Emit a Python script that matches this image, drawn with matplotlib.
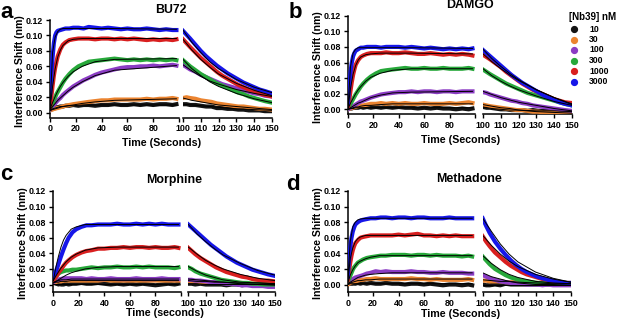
import matplotlib.pyplot as plt
from matplotlib.lines import Line2D

plt.rcParams['font.family'] = ['Liberation Sans', 'DejaVu Sans']
plt.rcParams['font.weight'] = 'bold'
plt.rcParams['axes.labelweight'] = 'bold'

W, H = 617, 321

# [Nb39] concentrations (nM) and their colours
CONCS = ['10', '30', '100', '300', '1000', '3000']
COLORS = ['#141414', '#EB8430', '#8B3CC4', '#27A83A', '#D91F1F', '#1616E8']

# sampled times of the traces (association / dissociation)
T_ON = [0, 1, 2, 3, 4, 5, 6, 8, 10, 12, 15, 18, 22, 26, 30, 35, 40, 45, 50, 55,
        60, 65, 70, 75, 80, 85, 90, 95, 98]
T_OFF = [100, 102, 104, 107, 110, 113, 116, 119, 122, 125, 128, 131, 134, 137,
         140, 143, 146, 150]
# times for the fitted curves
FIT_T_ON = [0, 2, 4, 6, 8, 10, 14, 18, 25, 35, 50, 98]
FIT_T_OFF = [100, 105, 110, 115, 120, 130, 140, 150]

# ---- BU72 ----
BU72_ON = [
    [0.003, 0.004, 0.005, 0.006, 0.006, 0.007, 0.007, 0.008, 0.008, 0.009, 0.009, 0.010, 0.009, 0.010, 0.010,
     0.009, 0.010, 0.010, 0.011, 0.010, 0.010, 0.011, 0.010, 0.011, 0.010, 0.011, 0.011, 0.010, 0.011],
    [0.003, 0.004, 0.004, 0.005, 0.005, 0.006, 0.006, 0.007, 0.008, 0.009, 0.010, 0.011, 0.012, 0.013, 0.014,
     0.015, 0.016, 0.016, 0.017, 0.017, 0.017, 0.017, 0.017, 0.018, 0.017, 0.018, 0.018, 0.019, 0.018],
    [0.004, 0.006, 0.008, 0.010, 0.012, 0.014, 0.016, 0.019, 0.023, 0.026, 0.030, 0.034, 0.038, 0.042, 0.045,
     0.049, 0.052, 0.054, 0.056, 0.058, 0.059, 0.059, 0.060, 0.060, 0.061, 0.060, 0.061, 0.062, 0.061],
    [0.005, 0.008, 0.012, 0.016, 0.020, 0.024, 0.027, 0.033, 0.039, 0.044, 0.050, 0.055, 0.060, 0.063, 0.066,
     0.067, 0.068, 0.069, 0.070, 0.069, 0.068, 0.069, 0.068, 0.069, 0.068, 0.069, 0.068, 0.069, 0.068],
    [0.005, 0.020, 0.035, 0.048, 0.058, 0.066, 0.073, 0.082, 0.088, 0.091, 0.094, 0.095, 0.096, 0.096, 0.096,
     0.095, 0.096, 0.096, 0.095, 0.096, 0.095, 0.096, 0.095, 0.094, 0.095, 0.094, 0.095, 0.094, 0.095],
    [0.020, 0.048, 0.072, 0.090, 0.100, 0.104, 0.106, 0.107, 0.108, 0.109, 0.109, 0.110, 0.110, 0.109, 0.111,
     0.110, 0.109, 0.110, 0.109, 0.108, 0.109, 0.108, 0.108, 0.109, 0.108, 0.107, 0.108, 0.107, 0.107],
]
BU72_OFF = [
    [0.011, 0.011, 0.010, 0.010, 0.009, 0.008, 0.008, 0.006, 0.006, 0.005, 0.005, 0.004, 0.004, 0.003, 0.003, 0.003, 0.002, 0.002],
    [0.019, 0.020, 0.019, 0.018, 0.016, 0.015, 0.014, 0.012, 0.011, 0.010, 0.009, 0.008, 0.008, 0.007, 0.006, 0.005, 0.005, 0.004],
    [0.062, 0.059, 0.056, 0.053, 0.049, 0.046, 0.043, 0.040, 0.037, 0.035, 0.033, 0.031, 0.029, 0.027, 0.025, 0.024, 0.022, 0.021],
    [0.068, 0.064, 0.060, 0.055, 0.050, 0.046, 0.042, 0.038, 0.035, 0.032, 0.029, 0.026, 0.024, 0.021, 0.019, 0.017, 0.015, 0.013],
    [0.095, 0.090, 0.085, 0.078, 0.071, 0.065, 0.059, 0.053, 0.048, 0.044, 0.040, 0.036, 0.033, 0.030, 0.028, 0.025, 0.023, 0.021],
    [0.106, 0.101, 0.096, 0.088, 0.080, 0.073, 0.067, 0.061, 0.056, 0.051, 0.047, 0.043, 0.039, 0.036, 0.033, 0.030, 0.028, 0.025],
]
BU72_FIT_ON = [
    [0.003, 0.005, 0.006, 0.007, 0.008, 0.008, 0.009, 0.009, 0.010, 0.010, 0.010, 0.010],
    [0.003, 0.004, 0.005, 0.006, 0.007, 0.008, 0.009, 0.010, 0.012, 0.014, 0.016, 0.018],
    [0.004, 0.008, 0.012, 0.016, 0.019, 0.022, 0.028, 0.033, 0.040, 0.048, 0.055, 0.061],
    [0.005, 0.013, 0.021, 0.028, 0.034, 0.039, 0.047, 0.053, 0.060, 0.066, 0.069, 0.070],
    [0.005, 0.034, 0.057, 0.072, 0.081, 0.087, 0.093, 0.095, 0.096, 0.096, 0.096, 0.096],
    [0.005, 0.078, 0.098, 0.105, 0.108, 0.109, 0.109, 0.109, 0.109, 0.109, 0.109, 0.108],
]
BU72_FIT_OFF = [
    [0.011, 0.010, 0.009, 0.008, 0.007, 0.005, 0.004, 0.003],
    [0.019, 0.016, 0.014, 0.012, 0.010, 0.008, 0.006, 0.004],
    [0.062, 0.054, 0.047, 0.041, 0.037, 0.030, 0.025, 0.021],
    [0.069, 0.057, 0.048, 0.040, 0.034, 0.025, 0.018, 0.013],
    [0.095, 0.081, 0.069, 0.059, 0.050, 0.038, 0.029, 0.022],
    [0.107, 0.091, 0.078, 0.066, 0.057, 0.043, 0.033, 0.026],
]

# ---- DAMGO ----
DAMGO_ON = [
    [0.000, 0.001, 0.001, 0.001, 0.002, 0.002, 0.002, 0.002, 0.003, 0.002, 0.003, 0.002, 0.003, 0.002, 0.003,
     0.002, 0.003, 0.002, 0.002, 0.001, 0.002, 0.001, 0.002, 0.001, 0.001, 0.000, 0.001, 0.000, 0.001],
    [0.000, 0.001, 0.001, 0.002, 0.002, 0.003, 0.003, 0.004, 0.005, 0.005, 0.006, 0.007, 0.007, 0.008, 0.007,
     0.008, 0.007, 0.008, 0.007, 0.007, 0.008, 0.007, 0.007, 0.007, 0.008, 0.007, 0.008, 0.009, 0.008],
    [0.000, 0.001, 0.002, 0.003, 0.004, 0.005, 0.006, 0.008, 0.010, 0.011, 0.013, 0.015, 0.017, 0.019, 0.020,
     0.021, 0.022, 0.022, 0.023, 0.022, 0.023, 0.023, 0.022, 0.023, 0.023, 0.022, 0.023, 0.023, 0.023],
    [0.002, 0.004, 0.007, 0.010, 0.013, 0.016, 0.019, 0.024, 0.029, 0.033, 0.038, 0.042, 0.046, 0.049, 0.050,
     0.051, 0.052, 0.053, 0.052, 0.052, 0.053, 0.052, 0.052, 0.053, 0.052, 0.052, 0.052, 0.053, 0.052],
    [0.003, 0.012, 0.024, 0.035, 0.044, 0.051, 0.057, 0.063, 0.067, 0.069, 0.071, 0.072, 0.072, 0.072, 0.073,
     0.072, 0.072, 0.073, 0.072, 0.071, 0.071, 0.072, 0.071, 0.070, 0.071, 0.070, 0.071, 0.070, 0.069],
    [0.008, 0.030, 0.048, 0.060, 0.068, 0.072, 0.075, 0.077, 0.079, 0.079, 0.080, 0.080, 0.080, 0.079, 0.080,
     0.080, 0.080, 0.079, 0.080, 0.079, 0.078, 0.079, 0.078, 0.077, 0.078, 0.077, 0.078, 0.077, 0.078],
]
DAMGO_OFF = [
    [0.003, 0.002, 0.002, 0.001, 0.000, 0.000, -0.001, -0.001, -0.001, -0.002, -0.001, -0.002, -0.002, -0.002, -0.003, -0.002, -0.003, -0.003],
    [0.006, 0.005, 0.004, 0.003, 0.002, 0.001, 0.000, -0.001, -0.001, -0.002, -0.003, -0.003, -0.004, -0.004, -0.004, -0.005, -0.005, -0.005],
    [0.022, 0.021, 0.019, 0.017, 0.015, 0.013, 0.011, 0.010, 0.008, 0.007, 0.005, 0.004, 0.003, 0.002, 0.001, 0.000, -0.001, -0.002],
    [0.051, 0.048, 0.045, 0.041, 0.037, 0.033, 0.030, 0.027, 0.024, 0.021, 0.019, 0.017, 0.015, 0.013, 0.011, 0.009, 0.007, 0.005],
    [0.070, 0.067, 0.064, 0.059, 0.054, 0.048, 0.043, 0.038, 0.033, 0.029, 0.025, 0.022, 0.019, 0.016, 0.013, 0.011, 0.009, 0.008],
    [0.076, 0.072, 0.068, 0.062, 0.056, 0.050, 0.044, 0.039, 0.034, 0.030, 0.026, 0.022, 0.018, 0.015, 0.012, 0.009, 0.007, 0.005],
]
DAMGO_FIT_ON = [
    [0.000, 0.001, 0.001, 0.002, 0.002, 0.002, 0.002, 0.002, 0.002, 0.002, 0.002, 0.002],
    [0.000, 0.001, 0.002, 0.003, 0.003, 0.004, 0.005, 0.005, 0.006, 0.007, 0.007, 0.007],
    [0.000, 0.002, 0.004, 0.006, 0.008, 0.009, 0.012, 0.015, 0.018, 0.021, 0.022, 0.023],
    [0.001, 0.008, 0.014, 0.020, 0.025, 0.029, 0.036, 0.041, 0.046, 0.050, 0.052, 0.052],
    [0.002, 0.027, 0.045, 0.056, 0.063, 0.067, 0.070, 0.071, 0.072, 0.072, 0.072, 0.071],
    [0.002, 0.055, 0.072, 0.077, 0.079, 0.079, 0.079, 0.079, 0.079, 0.079, 0.079, 0.078],
]
DAMGO_FIT_OFF = [
    [0.003, 0.001, 0.000, -0.001, -0.001, -0.002, -0.002, -0.003],
    [0.006, 0.004, 0.002, 0.001, -0.001, -0.003, -0.004, -0.005],
    [0.023, 0.019, 0.015, 0.012, 0.009, 0.005, 0.001, -0.002],
    [0.052, 0.043, 0.036, 0.030, 0.025, 0.017, 0.010, 0.005],
    [0.071, 0.061, 0.052, 0.044, 0.037, 0.025, 0.015, 0.007],
    [0.077, 0.065, 0.055, 0.046, 0.038, 0.025, 0.015, 0.006],
]

# ---- Morphine ----
MORPH_ON = [
    [0.002, 0.002, 0.001, 0.001, 0.000, 0.001, 0.000, 0.000, 0.001, 0.000, 0.001, 0.001, 0.002, 0.001, 0.001,
     0.002, 0.001, 0.000, 0.001, 0.000, 0.001, 0.000, 0.001, 0.000, -0.001, 0.000, 0.001, 0.000, 0.001],
    [0.002, 0.003, 0.003, 0.004, 0.004, 0.004, 0.004, 0.005, 0.005, 0.005, 0.005, 0.005, 0.005, 0.005, 0.005,
     0.005, 0.006, 0.005, 0.005, 0.005, 0.005, 0.005, 0.005, 0.005, 0.005, 0.005, 0.005, 0.005, 0.005],
    [0.003, 0.004, 0.005, 0.006, 0.006, 0.007, 0.007, 0.008, 0.008, 0.008, 0.008, 0.008, 0.008, 0.007, 0.008,
     0.007, 0.007, 0.008, 0.007, 0.007, 0.007, 0.008, 0.007, 0.007, 0.007, 0.008, 0.007, 0.007, 0.007],
    [0.006, 0.008, 0.010, 0.012, 0.014, 0.015, 0.016, 0.017, 0.018, 0.018, 0.019, 0.019, 0.020, 0.021, 0.022,
     0.021, 0.022, 0.022, 0.023, 0.022, 0.022, 0.023, 0.022, 0.023, 0.022, 0.022, 0.022, 0.021, 0.022],
    [0.005, 0.007, 0.010, 0.012, 0.015, 0.017, 0.019, 0.024, 0.028, 0.031, 0.035, 0.038, 0.041, 0.043, 0.044,
     0.046, 0.046, 0.047, 0.047, 0.048, 0.047, 0.048, 0.048, 0.047, 0.048, 0.047, 0.047, 0.048, 0.047],
    [0.010, 0.013, 0.017, 0.021, 0.026, 0.031, 0.036, 0.045, 0.053, 0.060, 0.067, 0.071, 0.074, 0.076, 0.076,
     0.077, 0.077, 0.077, 0.078, 0.077, 0.077, 0.078, 0.077, 0.078, 0.077, 0.078, 0.077, 0.077, 0.077],
]
MORPH_OFF = [
    [0.001, 0.001, 0.000, 0.001, 0.000, 0.000, 0.000, 0.000, -0.001, 0.000, 0.000, -0.001, 0.000, -0.001, -0.001, 0.000, -0.001, -0.001],
    [0.004, 0.004, 0.004, 0.003, 0.003, 0.003, 0.003, 0.002, 0.002, 0.002, 0.002, 0.002, 0.001, 0.001, 0.001, 0.001, 0.001, 0.001],
    [0.006, 0.006, 0.005, 0.005, 0.004, 0.003, 0.003, 0.002, 0.001, 0.001, 0.000, -0.001, -0.001, -0.002, -0.002, -0.002, -0.003, -0.003],
    [0.022, 0.020, 0.017, 0.014, 0.012, 0.010, 0.008, 0.006, 0.005, 0.004, 0.003, 0.002, 0.002, 0.001, 0.001, 0.000, 0.000, 0.000],
    [0.047, 0.043, 0.039, 0.034, 0.030, 0.026, 0.022, 0.019, 0.016, 0.014, 0.012, 0.010, 0.009, 0.007, 0.006, 0.005, 0.005, 0.004],
    [0.077, 0.073, 0.069, 0.063, 0.057, 0.051, 0.046, 0.041, 0.036, 0.032, 0.028, 0.025, 0.022, 0.019, 0.017, 0.015, 0.013, 0.011],
]
MORPH_FIT_ON = [
    [0.001, 0.001, 0.001, 0.001, 0.001, 0.001, 0.001, 0.001, 0.001, 0.001, 0.001, 0.001],
    [0.002, 0.003, 0.003, 0.004, 0.004, 0.004, 0.005, 0.005, 0.005, 0.005, 0.005, 0.005],
    [0.003, 0.004, 0.005, 0.006, 0.006, 0.006, 0.007, 0.007, 0.007, 0.007, 0.007, 0.007],
    [0.002, 0.004, 0.006, 0.008, 0.010, 0.012, 0.015, 0.017, 0.020, 0.022, 0.023, 0.023],
    [0.005, 0.011, 0.016, 0.021, 0.025, 0.029, 0.035, 0.039, 0.044, 0.047, 0.048, 0.048],
    [0.005, 0.022, 0.036, 0.048, 0.057, 0.063, 0.071, 0.074, 0.077, 0.077, 0.077, 0.077],
]
MORPH_FIT_OFF = [
    [0.001, 0.001, 0.000, 0.000, 0.000, 0.000, 0.000, 0.000],
    [0.005, 0.004, 0.004, 0.003, 0.003, 0.002, 0.002, 0.001],
    [0.007, 0.006, 0.005, 0.004, 0.003, 0.001, 0.000, -0.001],
    [0.023, 0.017, 0.012, 0.009, 0.006, 0.003, 0.002, 0.001],
    [0.048, 0.039, 0.031, 0.025, 0.020, 0.013, 0.008, 0.005],
    [0.077, 0.065, 0.055, 0.046, 0.038, 0.027, 0.018, 0.012],
]

# ---- Methadone ----
METH_ON = [
    [0.000, 0.001, 0.001, 0.001, 0.001, 0.002, 0.001, 0.002, 0.001, 0.002, 0.001, 0.002, 0.001, 0.001, 0.002,
     0.001, 0.001, 0.000, 0.001, 0.001, 0.000, 0.001, 0.000, -0.001, 0.000, 0.000, -0.001, 0.000, -0.001],
    [0.000, 0.001, 0.002, 0.003, 0.003, 0.004, 0.004, 0.005, 0.006, 0.006, 0.007, 0.007, 0.008, 0.007, 0.007,
     0.007, 0.007, 0.007, 0.008, 0.007, 0.007, 0.006, 0.007, 0.006, 0.006, 0.006, 0.006, 0.007, 0.006],
    [0.002, 0.003, 0.005, 0.006, 0.007, 0.008, 0.009, 0.010, 0.011, 0.012, 0.014, 0.015, 0.017, 0.016, 0.017,
     0.016, 0.016, 0.016, 0.017, 0.016, 0.016, 0.015, 0.015, 0.016, 0.015, 0.015, 0.015, 0.014, 0.014],
    [0.003, 0.007, 0.011, 0.015, 0.019, 0.022, 0.024, 0.028, 0.030, 0.032, 0.034, 0.035, 0.036, 0.037, 0.037,
     0.038, 0.038, 0.038, 0.037, 0.038, 0.038, 0.037, 0.038, 0.037, 0.037, 0.037, 0.036, 0.037, 0.036],
    [0.005, 0.017, 0.028, 0.037, 0.044, 0.049, 0.053, 0.057, 0.060, 0.061, 0.062, 0.063, 0.063, 0.063, 0.063,
     0.063, 0.064, 0.063, 0.064, 0.065, 0.063, 0.063, 0.062, 0.063, 0.062, 0.063, 0.062, 0.062, 0.062],
    [0.010, 0.030, 0.048, 0.060, 0.068, 0.073, 0.077, 0.080, 0.082, 0.083, 0.084, 0.085, 0.085, 0.086, 0.086,
     0.085, 0.086, 0.086, 0.085, 0.086, 0.086, 0.085, 0.085, 0.085, 0.086, 0.085, 0.085, 0.085, 0.085],
]
METH_OFF = [
    [0.000, -0.001, -0.001, 0.000, -0.001, 0.001, 0.000, 0.000, 0.000, 0.000, 0.000, 0.000, 0.000, 0.000, 0.000, 0.000, 0.000, 0.000],
    [0.005, 0.005, 0.004, 0.004, 0.004, 0.003, 0.003, 0.003, 0.002, 0.002, 0.002, 0.002, 0.001, 0.001, 0.001, 0.001, 0.001, 0.001],
    [0.012, 0.010, 0.008, 0.006, 0.004, 0.003, 0.002, 0.001, 0.001, 0.000, 0.000, 0.000, -0.001, 0.000, -0.001, -0.001, -0.001, -0.001],
    [0.036, 0.031, 0.026, 0.020, 0.016, 0.012, 0.009, 0.007, 0.005, 0.004, 0.003, 0.002, 0.002, 0.001, 0.001, 0.001, 0.001, 0.001],
    [0.062, 0.055, 0.049, 0.041, 0.035, 0.029, 0.024, 0.020, 0.016, 0.013, 0.011, 0.009, 0.007, 0.006, 0.004, 0.003, 0.002, 0.002],
    [0.085, 0.075, 0.066, 0.055, 0.046, 0.038, 0.031, 0.025, 0.020, 0.016, 0.013, 0.010, 0.008, 0.006, 0.005, 0.003, 0.002, 0.002],
]
METH_FIT_ON = [
    [0.000, 0.001, 0.001, 0.001, 0.001, 0.001, 0.001, 0.001, 0.001, 0.001, 0.001, 0.001],
    [0.000, 0.002, 0.003, 0.004, 0.005, 0.005, 0.006, 0.006, 0.007, 0.007, 0.007, 0.007],
    [0.001, 0.003, 0.005, 0.007, 0.009, 0.010, 0.012, 0.013, 0.014, 0.015, 0.015, 0.015],
    [0.002, 0.012, 0.019, 0.024, 0.028, 0.030, 0.033, 0.035, 0.037, 0.037, 0.037, 0.037],
    [0.003, 0.033, 0.047, 0.055, 0.059, 0.061, 0.063, 0.063, 0.063, 0.063, 0.063, 0.063],
    [0.003, 0.055, 0.074, 0.080, 0.083, 0.084, 0.085, 0.085, 0.085, 0.085, 0.085, 0.085],
]
METH_FIT_OFF = [
    [0.000, 0.000, 0.000, 0.000, 0.000, 0.000, 0.000, 0.000],
    [0.006, 0.005, 0.004, 0.004, 0.003, 0.002, 0.001, 0.001],
    [0.015, 0.010, 0.007, 0.004, 0.002, 0.000, 0.000, -0.001],
    [0.037, 0.027, 0.019, 0.013, 0.009, 0.004, 0.002, 0.001],
    [0.063, 0.050, 0.039, 0.030, 0.023, 0.013, 0.007, 0.003],
    [0.085, 0.068, 0.052, 0.039, 0.029, 0.016, 0.008, 0.003],
]

Y_TICKS = [0.00, 0.02, 0.04, 0.06, 0.08, 0.10, 0.12]
LEFT_TICKS = [0, 20, 40, 60, 80, 100]
RIGHT_TICKS = [100, 110, 120, 130, 140, 150]

# pixel layout per panel: y-axis x, end of first segment, start/end of second,
# y of 0.12, y of 0.00, y of the x-axis line
PANELS = [
    ('a', 'BU72', 'Time (Seconds)', BU72_ON, BU72_OFF, BU72_FIT_ON, BU72_FIT_OFF,
     (50, 179, 183, 272, 20, 112.7, 117.5), (6.5, 13), 10, 143),
    ('b', 'DAMGO', 'Time (Seconds)', DAMGO_ON, DAMGO_OFF, DAMGO_FIT_ON, DAMGO_FIT_OFF,
     (348, 475, 483, 572, 15.7, 109.3, 114.3), (295, 13), 5, 140),
    ('c', 'Morphine', 'Time (seconds)', MORPH_ON, MORPH_OFF, MORPH_FIT_ON, MORPH_FIT_OFF,
     (53.3, 181, 188.3, 275, 191, 284.5, 292), (6.5, 175), 180, 313),
    ('d', 'Methadone', 'Time (Seconds)', METH_ON, METH_OFF, METH_FIT_ON, METH_FIT_OFF,
     (347.7, 474.7, 482.7, 570.7, 191, 284.5, 292), (292.5, 185), 179, 314),
]

fig = plt.figure(figsize=(W / 100, H / 100), dpi=100)


def fx(x):
    return x / W


def fy(y):
    return 1 - y / H


for letter, title, xlabel, on, off, fon, foff, geo, lpos, ty, xly in PANELS:
    x0, x1, x2, x3, ytop, yzero, ybot = geo
    ymin = -0.12 * (ybot - yzero) / (yzero - ytop)
    bottom = fy(ybot)
    height = (ybot - ytop) / H
    axl = fig.add_axes([fx(x0), bottom, (x1 - x0) / W, height])
    axr = fig.add_axes([fx(x2), bottom, (x3 - x2) / W, height])

    for i, col in enumerate(COLORS):
        axl.plot(T_ON, on[i], color=col, lw=3.0, solid_joinstyle='round', zorder=2 + i)
        axr.plot(T_OFF, off[i], color=col, lw=3.0, solid_joinstyle='round', zorder=2 + i)
    for i in range(len(COLORS)):
        axl.plot(FIT_T_ON, fon[i], color='black', lw=0.7, zorder=10)
        axr.plot(FIT_T_OFF, foff[i], color='black', lw=0.7, zorder=10)

    for ax in (axl, axr):
        ax.set_ylim(ymin, 0.12)
        ax.spines['top'].set_visible(False)
        ax.spines['right'].set_visible(False)
        for s in ax.spines.values():
            s.set_linewidth(1.1)
        ax.tick_params(direction='out', length=3, width=1, labelsize=6.4, pad=2)
        ax.patch.set_alpha(0)

    axl.set_xlim(0, 100)
    axl.set_xticks(LEFT_TICKS)
    axl.set_xticklabels([str(t) for t in LEFT_TICKS[:-1]] + [''])
    axl.set_yticks(Y_TICKS)
    axl.set_yticklabels(['%.2f' % v for v in Y_TICKS])

    axr.set_xlim(100, 150)
    axr.set_xticks(RIGHT_TICKS)
    axr.set_xticklabels([str(t) for t in RIGHT_TICKS])
    axr.spines['left'].set_visible(False)
    axr.set_yticks([])

    cx = (x0 + x3) / 2 + 10
    fig.text(fx(cx), fy(ty), title, ha='center', va='center', fontsize=8.9, fontweight='bold')
    fig.text(fx((x0 + x3) / 2 + 1), fy(xly), xlabel, ha='center', va='center',
             fontsize=7.7, fontweight='bold')
    fig.text(fx(x0 - 30), fy((ytop + ybot) / 2 + 2), 'Interference Shift (nm)', rotation=90,
             ha='center', va='center', fontsize=7.6, fontweight='bold')
    fig.text(fx(lpos[0]), fy(lpos[1]), letter, ha='center', va='center', fontsize=16,
             fontweight='bold')

# legend
fig.text(fx(569), fy(17), '[Nb39] nM', ha='left', va='center', fontsize=7, fontweight='bold')
for i, (c, col) in enumerate(zip(CONCS, COLORS)):
    yy = fy(29 + 10.5 * i)
    fig.add_artist(Line2D([fx(574)], [yy], marker='o', ms=4.2, color=col, ls='none',
                          transform=fig.transFigure))
    fig.text(fx(589), yy, c, ha='left', va='center', fontsize=6.2, fontweight='bold')

fig.savefig('out.png', dpi=100)
